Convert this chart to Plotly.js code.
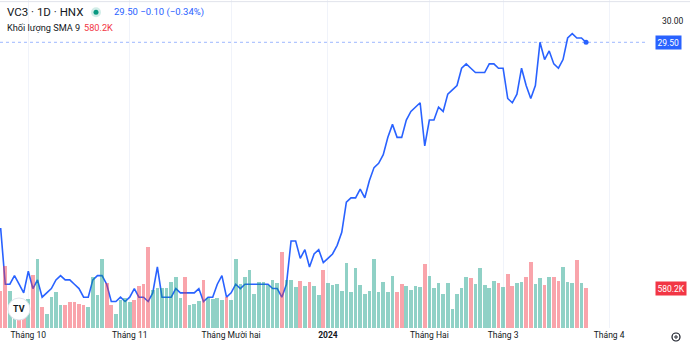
<!DOCTYPE html>
<html>
<head>
<meta charset="utf-8">
<script src="https://cdn.plot.ly/plotly-3.0.1.min.js"></script>
<style>
html,body{margin:0;padding:0;background:#fff;}
#chart{width:690px;height:346px;}
</style>
</head>
<body>
<div id="chart"></div>
<script>
// ---- data ----
const symbolTitle = 'VC3 · 1D · HNX';
const volLegend = 'Khối lượng SMA 9';
const tickIdx = [6, 28, 50, 71, 93, 109, 132];
const tickLabels = ['Tháng 10', 'Tháng 11', 'Tháng Mười hai', '<b>2024</b>', 'Tháng Hai', 'Tháng 3', 'Tháng 4'];
const priceTicks = [30];

const closePrice = [
  25.2, 23.9, 23.9, 24.1, 23.9, 23.7, 24.2, 23.8, 24.0, 23.6,
  23.7, 23.8, 24.0, 24.1, 24.0, 24.0, 23.9, 23.8, 23.6, 23.6,
  24.0, 24.1, 24.1, 23.9, 23.5, 23.5, 23.6, 23.5, 23.6, 23.8,
  23.6, 23.6, 23.5, 23.7, 24.3, 23.6, 23.6, 23.6, 23.8, 23.7,
  23.7, 23.7, 23.7, 23.8, 23.5, 23.6, 23.6, 23.9, 24.1, 23.6,
  23.7, 23.9, 23.8, 23.9, 23.9, 23.9, 23.9, 23.9, 23.9, 23.8,
  23.8, 23.6, 23.9, 24.9, 24.9, 24.5, 24.7, 24.3, 24.6, 24.7,
  24.4, 24.5, 24.6, 24.8, 25.1, 25.8, 25.9, 25.9, 26.1, 25.9,
  26.3, 26.6, 26.7, 26.9, 27.3, 27.6, 27.3, 27.3, 27.7, 27.9,
  28.0, 28.1, 27.1, 27.7, 27.7, 28.0, 27.9, 28.3, 28.4, 28.5,
  28.9, 29.0, 28.9, 28.8, 28.8, 28.8, 29.0, 29.0, 28.9, 28.9,
  28.2, 28.1, 28.3, 28.9, 28.5, 28.2, 28.5, 29.5, 29.1, 29.3,
  29.0, 28.9, 29.1, 29.6, 29.7, 29.6, 29.6, 29.5
];

// volume in thousands of shares
const volumeK = [
  536, 903, 536, 362, 406, 362, 420, 776, 1000, 305,
  210, 450, 529, 334, 334, 377, 377, 348, 334, 305,
  747, 479, 1000, 653, 334, 203, 406, 435, 377, 406,
  616, 638, 1175, 551, 587, 587, 587, 667, 747, 435,
  747, 334, 348, 392, 696, 428, 420, 428, 406, 450,
  406, 1008, 638, 740, 841, 500, 667, 667, 624, 696,
  660, 1102, 703, 703, 602, 682, 609, 663, 609, 479,
  841, 648, 624, 634, 537, 938, 518, 874, 624, 489,
  537, 1000, 518, 663, 526, 758, 526, 634, 609, 551,
  613, 599, 924, 758, 584, 648, 489, 648, 276, 489,
  576, 744, 729, 634, 874, 624, 584, 682, 648, 599,
  779, 609, 648, 663, 744, 953, 634, 729, 624, 744,
  744, 682, 889, 671, 648, 986, 648, 580.2
];

// 1 = up candle (green volume), 0 = down candle (red volume)
const candleUp = [
  0,0,1,1,0,0,1,0,1,0,
  1,1,1,1,0,0,0,0,0,1,
  1,1,1,0,0,1,1,1,1,0,
  0,0,0,1,1,1,1,1,1,1,
  0,1,1,1,0,1,1,1,1,0,
  1,1,1,1,1,1,1,1,1,1,
  1,0,1,1,1,0,1,0,1,1,
  0,1,1,1,1,1,1,1,1,1,
  1,1,1,1,1,1,0,0,1,1,
  1,1,0,1,1,1,1,1,1,1,
  1,1,0,1,1,1,1,1,0,1,
  0,0,1,1,0,0,1,1,0,1,
  0,0,1,1,1,0,1,0
];

// ---- derived ----
const idx = closePrice.map((_, i) => i);
const n = closePrice.length;
const last = closePrice[n - 1];
const prev = closePrice[n - 2];
const chg = last - prev;
const pct = chg / prev * 100;
const minus = '\u2212';
const fmtSigned = v => (v < 0 ? minus : '+') + Math.abs(v).toFixed(2);
const lastVol = volumeK[n - 1];
const volText = lastVol.toFixed(1) + 'K';

const UP = 'rgba(8,153,129,0.45)';
const DOWN = 'rgba(242,54,69,0.45)';
const BLUE = '#2962ff';
const FONT = 'Roboto, "Liberation Sans", sans-serif';

const volTrace = {
  type: 'bar', x: idx, y: volumeK, yaxis: 'y2',
  marker: { color: candleUp.map(u => u ? UP : DOWN), line: { width: 0 } },
  width: 0.8, hoverinfo: 'skip'
};
const lineTrace = {
  type: 'scatter', mode: 'lines', x: idx, y: closePrice, yaxis: 'y',
  line: { color: BLUE, width: 1.6 }, hoverinfo: 'skip'
};
const lastTrace = {
  type: 'scatter', mode: 'markers', x: [n - 1], y: [last], yaxis: 'y',
  marker: { color: BLUE, size: 5 }, hoverinfo: 'skip'
};

const layout = {
  width: 690, height: 346,
  margin: { l: 0, r: 44, t: 0, b: 18, pad: 0 },
  paper_bgcolor: '#ffffff', plot_bgcolor: '#ffffff',
  showlegend: false,
  font: { family: FONT, color: '#131722' },
  bargap: 0,
  xaxis: {
    range: [-0.14, 140.0], fixedrange: true,
    tickmode: 'array', tickvals: tickIdx, ticktext: tickLabels,
    showgrid: true, gridcolor: '#f0f3fa', gridwidth: 1,
    zeroline: false, showline: false, ticks: '',
    tickfont: { size: 8.5, color: '#131722', family: FONT }
  },
  yaxis: {
    side: 'right', range: [22.887, 30.479], fixedrange: true,
    tickmode: 'array', tickvals: priceTicks, ticktext: priceTicks.map(v => v.toFixed(2)),
    showgrid: false, zeroline: false, showline: false, ticks: '',
    ticklabelstandoff: 15,
    tickfont: { size: 8.5, color: '#131722', family: FONT }
  },
  yaxis2: {
    overlaying: 'y', side: 'left', range: [0, 328 * 14.505], visible: false, fixedrange: true
  },
  shapes: [
    { type: 'line', xref: 'paper', yref: 'paper', x0: 0, x1: 1.07, y0: 0.995, y1: 0.995,
      line: { color: '#e0e3eb', width: 1 } },
    { type: 'line', xref: 'paper', yref: 'y', x0: 0, x1: 1, y0: last, y1: last,
      line: { color: 'rgba(41,98,255,0.45)', width: 1, dash: 'dot' } },
    { type: 'circle', xref: 'paper', yref: 'paper', xsizemode: 'pixel', ysizemode: 'pixel',
      xanchor: 0, yanchor: 1, x0: 91, x1: 101, y0: -17.3, y1: -7.3,
      fillcolor: 'rgba(8,153,129,0.18)', line: { width: 0 } },
    { type: 'circle', xref: 'paper', yref: 'paper', xsizemode: 'pixel', ysizemode: 'pixel',
      xanchor: 0, yanchor: 1, x0: 93.5, x1: 98.5, y0: -14.8, y1: -9.8,
      fillcolor: '#089981', line: { width: 0 } },
    { type: 'circle', xref: 'paper', yref: 'paper', xsizemode: 'pixel', ysizemode: 'pixel',
      xanchor: 0, yanchor: 1, x0: 8, x1: 30, y0: -320, y1: -298,
      fillcolor: '#ffffff', line: { color: '#e0e3eb', width: 1 } },
    { type: 'circle', xref: 'paper', yref: 'paper', xsizemode: 'pixel', ysizemode: 'pixel',
      xanchor: 0, yanchor: 1, x0: 672, x1: 680, y0: -341, y1: -333,
      fillcolor: 'rgba(0,0,0,0)', line: { color: '#131722', width: 1.2 } },
    { type: 'circle', xref: 'paper', yref: 'paper', xsizemode: 'pixel', ysizemode: 'pixel',
      xanchor: 0, yanchor: 1, x0: 674.8, x1: 677.2, y0: -338.2, y1: -335.8,
      fillcolor: 'rgba(0,0,0,0)', line: { color: '#131722', width: 1 } }
  ],
  annotations: [
    { xref: 'paper', yref: 'paper', x: 0, y: 1, xanchor: 'left', yanchor: 'middle',
      xshift: 5, yshift: -12.3, showarrow: false, text: symbolTitle,
      font: { size: 11.5, color: '#131722', family: FONT } },
    { xref: 'paper', yref: 'paper', x: 0, y: 1, xanchor: 'left', yanchor: 'middle',
      xshift: 112, yshift: -12.3, showarrow: false,
      text: last.toFixed(2) + ' ' + fmtSigned(chg) + ' (' + fmtSigned(pct) + '%)',
      font: { size: 9.5, color: BLUE, family: FONT } },
    { xref: 'paper', yref: 'paper', x: 0, y: 1, xanchor: 'left', yanchor: 'middle',
      xshift: 5, yshift: -27.5, showarrow: false, text: volLegend,
      font: { size: 9.2, color: '#131722', family: FONT } },
    { xref: 'paper', yref: 'paper', x: 0, y: 1, xanchor: 'left', yanchor: 'middle',
      xshift: 82, yshift: -27.5, showarrow: false, text: volText,
      font: { size: 9.2, color: '#f23645', family: FONT } },
    { xref: 'paper', yref: 'y', x: 1, y: last, xanchor: 'left', yanchor: 'middle',
      xshift: 9, showarrow: false, text: last.toFixed(2), bgcolor: BLUE, borderpad: 1.5,
      font: { size: 8.5, color: '#ffffff', family: FONT } },
    { xref: 'paper', yref: 'y2', x: 1, y: lastVol, xanchor: 'left', yanchor: 'middle',
      xshift: 9, showarrow: false, text: volText, bgcolor: '#f23645', borderpad: 1.5,
      font: { size: 8.5, color: '#ffffff', family: FONT } },
    { xref: 'paper', yref: 'paper', x: 0, y: 1, xanchor: 'center', yanchor: 'middle',
      xshift: 19, yshift: -309, showarrow: false, text: '<b>TV</b>',
      font: { size: 9, color: '#131722', family: FONT } }
  ]
};

Plotly.newPlot('chart', [volTrace, lineTrace, lastTrace], layout, { displayModeBar: false, staticPlot: true });
</script>
</body>
</html>
